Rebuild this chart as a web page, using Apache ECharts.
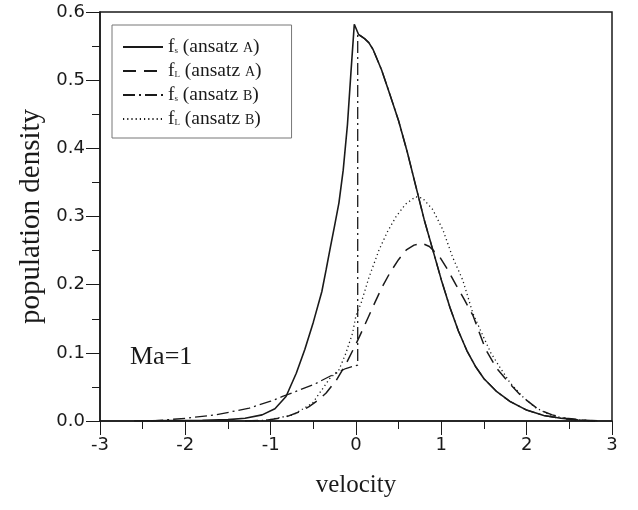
<!DOCTYPE html>
<html>
<head>
<meta charset="utf-8">
<script src="https://cdn.jsdelivr.net/npm/echarts@6/dist/echarts.min.js"></script>
<style>
  html, body { margin: 0; padding: 0; background: #fff; }
  #chart { width: 638px; height: 510px; }
</style>
</head>
<body>
<div id="chart"></div>
<script>
// f_s (ansatz A) - solid
const fsA_x = [-2.6, -2.2, -1.8, -1.5, -1.3, -1.1, -0.95, -0.82, -0.7, -0.6, -0.5, -0.4, -0.35, -0.3, -0.25, -0.2, -0.15, -0.1, -0.06, -0.02,
  0.03, 0.1, 0.15, 0.2, 0.3, 0.4, 0.5, 0.6, 0.7, 0.8, 0.9, 1.0, 1.1, 1.2, 1.3, 1.4, 1.5, 1.65, 1.8, 2.0, 2.2, 2.4, 2.6, 2.8]
const fsA_y = [0.0, 0.0005, 0.001, 0.002, 0.004, 0.009, 0.018, 0.036, 0.07, 0.105, 0.145, 0.19, 0.222, 0.255, 0.287, 0.32, 0.368, 0.435, 0.51, 0.582,
  0.567, 0.561, 0.555, 0.545, 0.515, 0.478, 0.44, 0.395, 0.345, 0.295, 0.251, 0.207, 0.167, 0.132, 0.103, 0.08, 0.062, 0.043, 0.029, 0.016, 0.008, 0.004, 0.0015, 0.0]

// f_L (ansatz A) - dashed
const fLA_x = [-1.3, -1.05, -0.82, -0.65, -0.55, -0.45, -0.35, -0.23, -0.12, 0.0, 0.1, 0.2, 0.3, 0.4, 0.5, 0.59, 0.68, 0.77,
  0.86, 0.98, 1.07, 1.17, 1.27, 1.37, 1.45, 1.52, 1.65, 1.8, 1.95, 2.15, 2.3, 2.46, 2.7, 2.9]
const fLA_y = [0.0, 0.001, 0.006, 0.014, 0.021, 0.03, 0.041, 0.06, 0.083, 0.113, 0.14, 0.168, 0.195, 0.218, 0.237, 0.251, 0.258, 0.261,
  0.256, 0.241, 0.223, 0.2, 0.178, 0.155, 0.128, 0.105, 0.077, 0.055, 0.035, 0.016, 0.009, 0.004, 0.001, 0.0]

// f_s (ansatz B) - dash-dot
const fsB_x = [-2.4, -2.0, -1.64, -1.25, -1.0, -0.86, -0.65, -0.47, -0.3, -0.12, 0.02, 0.02,
  0.04, 0.1, 0.15, 0.2, 0.3, 0.4, 0.5, 0.6, 0.7, 0.8, 0.9, 1.0, 1.1, 1.2, 1.3, 1.4, 1.5, 1.65, 1.8, 2.0, 2.2, 2.4, 2.6, 2.8]
const fsB_y = [0.0, 0.004, 0.009, 0.019, 0.029, 0.036, 0.046, 0.055, 0.066, 0.077, 0.082, 0.568,
  0.566, 0.561, 0.555, 0.545, 0.515, 0.478, 0.44, 0.395, 0.345, 0.295, 0.251, 0.207, 0.167, 0.132, 0.103, 0.08, 0.062, 0.043, 0.029, 0.016, 0.008, 0.004, 0.0015, 0.0]

// f_L (ansatz B) - dotted
const fLB_x = [-1.3, -1.05, -0.74, -0.51, -0.31, -0.2, -0.12, -0.04, 0.0, 0.06, 0.15, 0.27, 0.37, 0.47, 0.58, 0.7, 0.78,
  0.9, 1.02, 1.13, 1.25, 1.37, 1.48, 1.58, 1.68, 1.8, 1.95, 2.1, 2.27, 2.5, 2.8]
const fLB_y = [0.0, 0.001, 0.009, 0.026, 0.062, 0.075, 0.099, 0.129, 0.155, 0.173, 0.21, 0.251, 0.278, 0.3, 0.318, 0.329, 0.327,
  0.31, 0.28, 0.241, 0.207, 0.158, 0.127, 0.1, 0.08, 0.057, 0.036, 0.02, 0.009, 0.002, 0.0]

const xTicks = [-3, -2, -1, 0, 1, 2, 3]
const yTicks = [0.0, 0.1, 0.2, 0.3, 0.4, 0.5, 0.6]

const seriesNames = ['fsA', 'fLA', 'fsB', 'fLB']
const legendText = {
  fsA: '{f|f}{s|s}{t| (ansatz }{c|A}{t|)}',
  fLA: '{f|f}{s|L}{t| (ansatz }{c|A}{t|)}',
  fsB: '{f|f}{s|s}{t| (ansatz }{c|B}{t|)}',
  fLB: '{f|f}{s|L}{t| (ansatz }{c|B}{t|)}'
}

function zip(xs, ys) {
  return xs.map((x, i) => [x, ys[i]])
}

const chart = echarts.init(document.getElementById('chart'))

const serif = 'Liberation Serif'
const sans = 'DejaVu Sans'
const ink = '#1a1a1a'

function lineSeries(name, xs, ys, type, width) {
  return {
    name: name,
    type: 'line',
    data: zip(xs, ys),
    symbol: 'none',
    smooth: false,
    lineStyle: { color: ink, width: width, type: type },
    itemStyle: { color: ink }
  }
}

chart.setOption({
  animation: false,
  backgroundColor: '#fff',
  grid: {
    left: 100, right: 26, top: 12, bottom: 89,
    show: true, borderColor: ink, borderWidth: 1.5
  },
  legend: {
    data: seriesNames,
    orient: 'vertical',
    left: 112, top: 25,
    itemWidth: 40, itemHeight: 14, itemGap: 4,
    padding: [12, 30, 9, 10],
    borderColor: '#777', borderWidth: 1,
    itemStyle: { opacity: 0 },
    formatter: name => legendText[name],
    textStyle: {
      color: ink,
      rich: {
        f: { fontFamily: serif, fontSize: 19.5, color: ink },
        s: { fontFamily: serif, fontSize: 9, color: ink, padding: [7, 0, 0, 0] },
        t: { fontFamily: serif, fontSize: 19.5, color: ink },
        c: { fontFamily: serif, fontSize: 14, color: ink, padding: [3, 0, 0, 0] }
      }
    }
  },
  xAxis: {
    type: 'value',
    min: xTicks[0], max: xTicks[xTicks.length - 1], interval: 1,
    name: 'velocity', nameLocation: 'middle', nameGap: 52,
    nameTextStyle: { fontFamily: serif, fontSize: 25, color: ink },
    axisLine: { onZero: false, lineStyle: { color: ink, width: 1.5 } },
    axisTick: { length: 14, lineStyle: { color: ink, width: 1 } },
    minorTick: { show: true, splitNumber: 2, length: 8, lineStyle: { color: ink, width: 1 } },
    splitLine: { show: false },
    axisLabel: { fontFamily: sans, fontSize: 18, color: ink, margin: 15 }
  },
  yAxis: {
    type: 'value',
    min: yTicks[0], max: yTicks[yTicks.length - 1], interval: 0.1,
    name: 'population density', nameLocation: 'middle', nameGap: 52,
    nameTextStyle: { fontFamily: serif, fontSize: 29, color: ink },
    axisLine: { show: true, onZero: false, lineStyle: { color: ink, width: 1.5 } },
    axisTick: { show: true, length: 14, lineStyle: { color: ink, width: 1 } },
    minorTick: { show: true, splitNumber: 2, length: 8, lineStyle: { color: ink, width: 1 } },
    splitLine: { show: false },
    axisLabel: { fontFamily: sans, fontSize: 18, color: ink, margin: 15, formatter: v => v.toFixed(1) }
  },
  graphic: [{
    type: 'text', left: 130, top: 344,
    style: { text: 'Ma=1', fontFamily: serif, fontSize: 26, fill: ink }
  }],
  series: [
    lineSeries('fsA', fsA_x, fsA_y, 'solid', 1.6),
    lineSeries('fLA', fLA_x, fLA_y, [13, 8], 1.5),
    lineSeries('fsB', fsB_x, fsB_y, [12, 4, 2, 4], 1.3),
    lineSeries('fLB', fLB_x, fLB_y, [1.2, 3], 1.3)
  ]
})
</script>
</body>
</html>
